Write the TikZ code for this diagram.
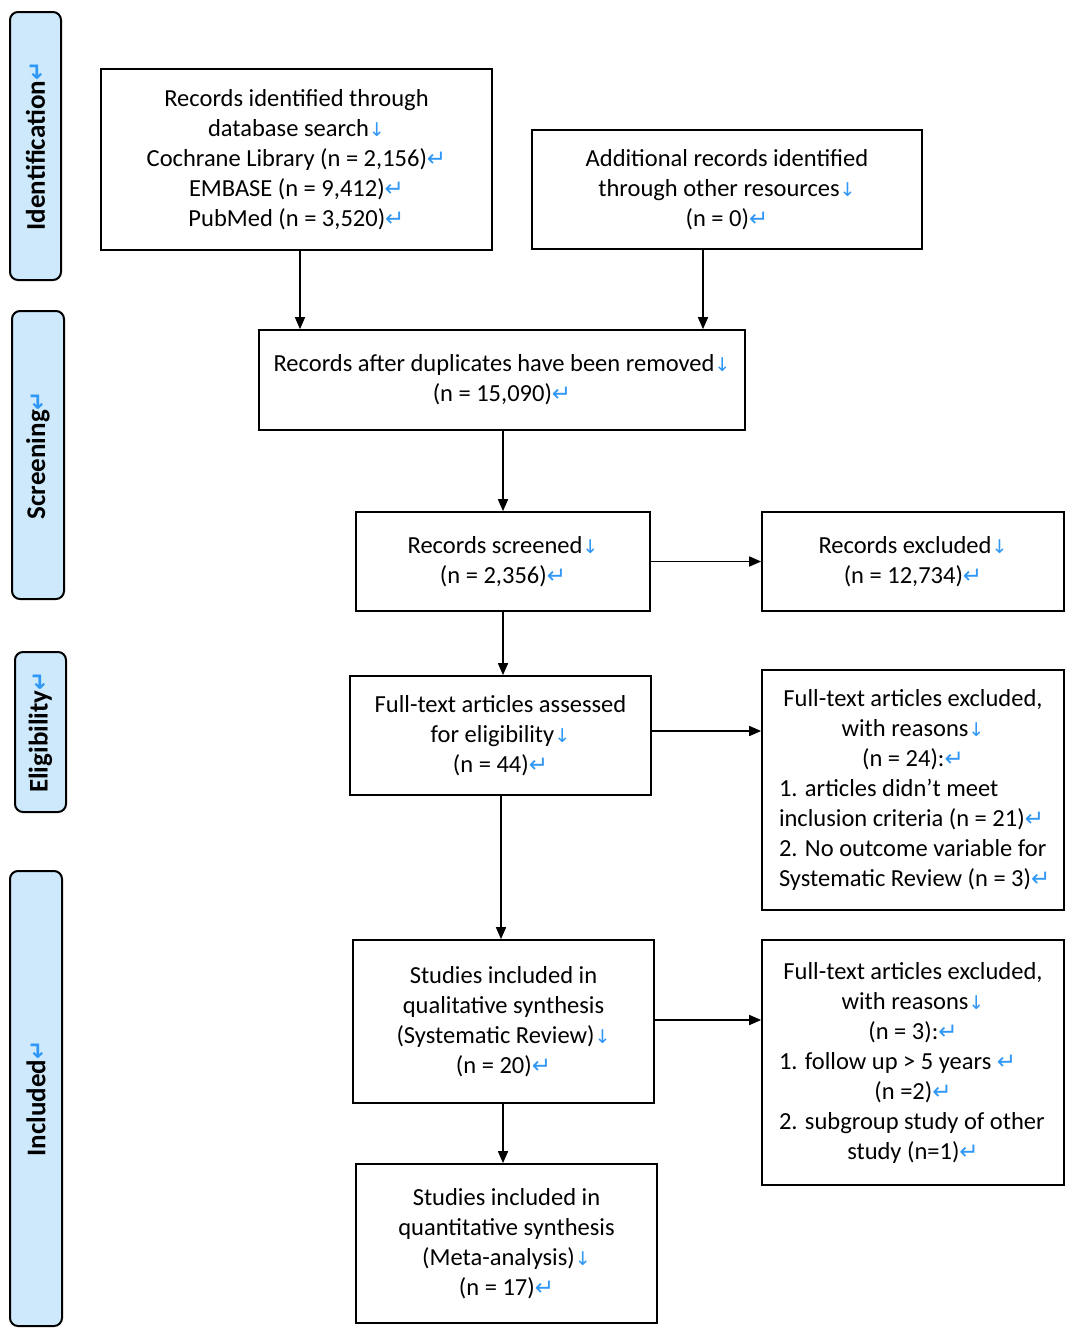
\documentclass[tikz,border=0pt]{standalone}
\usepackage{fontspec}
\setmainfont{Carlito}
\newfontfamily\symfont{DejaVu Sans}
\usetikzlibrary{arrows.meta}
\definecolor{markblue}{HTML}{2F97F5}
\definecolor{barfill}{HTML}{CDE9FB}
\newcommand{\dnm}{{\symfont\color{markblue}\fontsize{19}{19}\selectfont ↓}}
\newcommand{\rtm}{{\symfont\color{markblue}\fontsize{23}{23}\selectfont ↵}}
\newcommand{\lline}[1]{\makebox[268pt][l]{#1}}
\begin{document}
\begin{tikzpicture}[x=1pt,y=-1pt,
  every node/.style={font=\fontsize{24.5}{30}\selectfont},
  box/.style={draw=black,line width=1.7pt,fill=white,inner sep=0pt,align=center},
  bar/.style={draw=black,line width=2pt,fill=barfill,rounded corners=8pt,inner sep=0pt},
  barlabel/.style={rotate=90,font=\fontsize{27}{30}\selectfont\bfseries},
  arr/.style={draw=black,line width=1.6pt,-{Triangle[length=12pt,width=10pt]}}]
\useasboundingbox (0,0) rectangle (1074,1339);

% side bars
\node[bar,minimum width=51pt,minimum height=268pt] (b1) at (35.5,146) {};
\node[barlabel] (l1) at (b1.center) {Identification\rtm};
\node[bar,minimum width=52pt,minimum height=288pt] (b2) at (38,455) {};
\node[barlabel] (l2) at (b2.center) {Screening\rtm};
\node[bar,minimum width=51pt,minimum height=160pt] (b3) at (40.5,732) {};
\node[barlabel] (l3) at (b3.center) {Eligibility\rtm};
\node[bar,minimum width=52pt,minimum height=455pt] (b4) at (36,1098.5) {};
\node[barlabel] (l4) at (b4.center) {Included\rtm};

% boxes
\node[box,minimum width=391pt,minimum height=181pt] (A) at (296.5,159.5)
  {Records identified through\\database search\dnm\\Cochrane Library (n = 2,156)\rtm\\EMBASE (n = 9,412)\rtm\\PubMed (n = 3,520)\rtm};
\node[box,minimum width=390pt,minimum height=119pt] (B) at (727,189.5)
  {Additional records identified\\through other resources\dnm\\(n = 0)\rtm};
\node[box,minimum width=486pt,minimum height=100pt] (C) at (502,380)
  {Records after duplicates have been removed\dnm\\(n = 15,090)\rtm};
\node[box,minimum width=294pt,minimum height=99pt] (D) at (503,561.5)
  {Records screened\dnm\\(n = 2,356)\rtm};
\node[box,minimum width=302pt,minimum height=99pt] (E) at (913,561.5)
  {Records excluded\dnm\\(n = 12,734)\rtm};
\node[box,minimum width=301pt,minimum height=119pt] (F) at (500.5,735.5)
  {Full-text articles assessed\\for eligibility\dnm\\(n = 44)\rtm};
\node[box,minimum width=302pt,minimum height=240pt] (G) at (913,790)
  {Full-text articles excluded,\\with reasons\dnm\\(n = 24):\rtm\\
   \lline{1. articles didn’t meet}\\\lline{inclusion criteria (n = 21)\rtm}\\
   \lline{2. No outcome variable for}\\\lline{Systematic Review (n = 3)\rtm}};
\node[box,minimum width=301pt,minimum height=163pt] (H) at (503.5,1021.5)
  {Studies included in\\qualitative synthesis\\(Systematic Review)\dnm\\(n = 20)\rtm};
\node[box,minimum width=302pt,minimum height=245pt] (I) at (913,1062.5)
  {Full-text articles excluded,\\with reasons\dnm\\(n = 3):\rtm\\
   \lline{1. follow up > 5 years \rtm}\\(n =2)\rtm\\
   \lline{2. subgroup study of other}\\study (n=1)\rtm};
\node[box,minimum width=301pt,minimum height=159pt] (J) at (506.5,1243.5)
  {Studies included in\\quantitative synthesis\\(Meta-analysis)\dnm\\(n = 17)\rtm};

% connectors
\draw[arr] (A.south -| 300,0) -- (C.north -| 300,0);
\draw[arr] (B.south -| 703,0) -- (C.north -| 703,0);
\draw[arr] (C.south -| 503,0) -- (D.north -| 503,0);
\draw[arr] (D.east) -- (E.west);
\draw[arr] (D.south -| 503,0) -- (F.north -| 503,0);
\draw[arr] (F.east |- 0,731) -- (G.west |- 0,731);
\draw[arr] (F.south -| 501,0) -- (H.north -| 501,0);
\draw[arr] (H.east |- 0,1020) -- (I.west |- 0,1020);
\draw[arr] (H.south -| 503,0) -- (J.north -| 503,0);
\end{tikzpicture}
\end{document}
